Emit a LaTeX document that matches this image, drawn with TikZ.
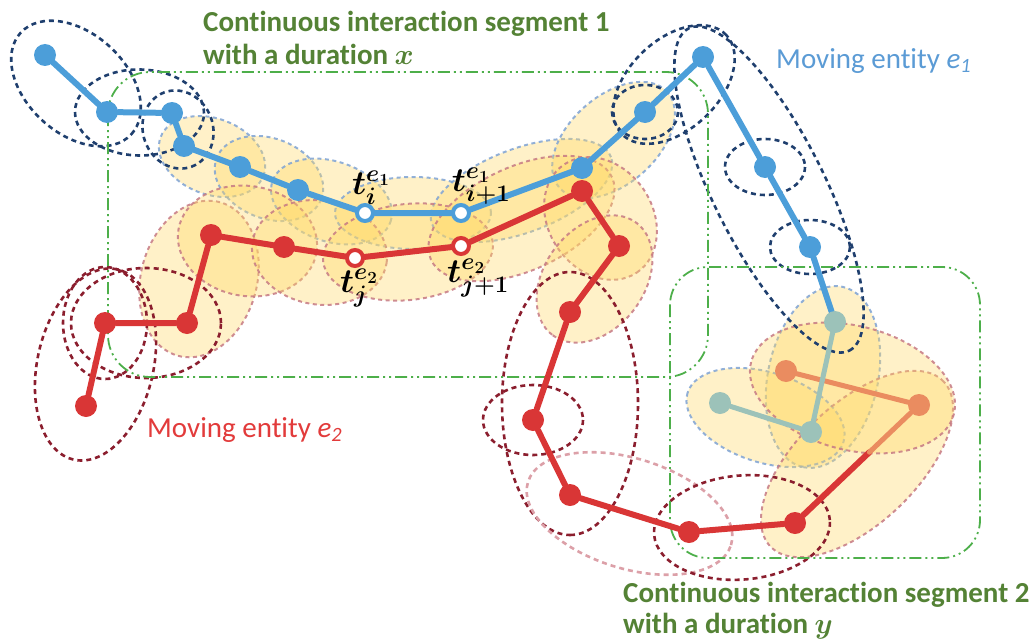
\RequirePackage{fix-cm}
\documentclass[tikz,border=0pt]{standalone}
\usepackage{fontspec}
\setmainfont{Carlito}[Ligatures=NoCommon]
\usetikzlibrary{positioning,calc}

\pgfdeclarelayer{prisms}
\pgfdeclarelayer{tracks}
\pgfsetlayers{prisms,tracks,main}

\definecolor{eblue}{HTML}{4C9ED9}
\definecolor{ered}{HTML}{D93636}
\definecolor{eteal}{HTML}{9CC2B9}
\definecolor{eorange}{HTML}{EA8C60}
\definecolor{navy}{HTML}{1F3F6E}
\definecolor{darkred}{HTML}{8B1E2E}
\definecolor{lightblue}{HTML}{7FA3D4}
\definecolor{pinkline}{HTML}{C67A84}
\definecolor{palepink}{HTML}{DCA0A8}
\definecolor{prismfill}{HTML}{FFD966}
\definecolor{segline}{HTML}{4DAF4A}
\definecolor{segtext}{HTML}{548235}
\definecolor{textblue}{HTML}{5B9BD5}
\definecolor{textred}{HTML}{E23B3B}

\tikzset{
  fixdot/.style={circle,fill=#1,inner sep=0pt,minimum size=22pt},
  openfix/.style={circle,draw=#1,fill=white,line width=4pt,inner sep=0pt,minimum size=16pt},
  track/.style={draw=#1,line width=6pt,line cap=round,line join=round},
  fadetrack/.style={draw=#1,line width=5pt,line cap=round,line join=round},
  inprism/.style={fill=prismfill,fill opacity=0.36,draw=#1,draw opacity=0.85,line width=2pt,dash pattern=on 4pt off 3.5pt},
  outprism/.style={draw=#1,line width=2.6pt,dash pattern=on 5pt off 4pt},
  segbox/.style={draw=segline,line width=1.8pt,rounded corners=#1,dash pattern=on 12pt off 4pt on 2pt off 4pt on 2pt off 4pt},
  seglabel/.style={text=segtext,font=\fontsize{29}{34}\selectfont\bfseries,inner sep=0pt,anchor=base west},
  entlabel/.style={text=#1,font=\fontsize{29}{34}\selectfont,inner sep=0pt,anchor=base west},
  timelabel/.style={font=\fontsize{34}{38}\selectfont\boldmath,inner sep=0pt}
}

% prism ellipse: style, two fixes as foci, extra half length, half width
\newcommand{\prism}[5]{%
  \path[#1] let \p1=(#2), \p2=(#3),
    \n1={atan2(\y2-\y1,\x2-\x1)}, \n2={veclen(\x2-\x1,\y2-\y1)/2+#4pt} in
    ($(#2)!0.5!(#3)$) circle[x radius=\n2, y radius=#5pt, rotate=\n1];}

\begin{document}
\begin{tikzpicture}[x=1pt,y=-1pt]
\useasboundingbox (0,0) rectangle (1033,642);

% moving entity e1
\node[fixdot=eblue] (b1) at (45,55) {};
\node[fixdot=eblue] (b2) at (107,112) {};
\node[fixdot=eblue] (b3) at (172,113) {};
\node[fixdot=eblue] (b4) at (184,146) {};
\node[fixdot=eblue] (b5) at (240,167) {};
\node[fixdot=eblue] (b6) at (298,190) {};
\node[openfix=eblue] (b7) at (365,213) {};
\node[openfix=eblue] (b8) at (461,213) {};
\node[fixdot=eblue] (b9) at (582,168) {};
\node[fixdot=eblue] (b10) at (645,112) {};
\node[fixdot=eblue] (b11) at (703,57) {};
\node[fixdot=eblue] (b12) at (765,167) {};
\node[fixdot=eblue] (b13) at (810,247) {};
\node[fixdot=eteal] (b14) at (835,322) {};
\node[fixdot=eteal] (b15) at (811,432) {};
\node[fixdot=eteal] (b16) at (720,403) {};

% moving entity e2
\node[fixdot=ered] (r1) at (86,406) {};
\node[fixdot=ered] (r2) at (105,323) {};
\node[fixdot=ered] (r3) at (187,323) {};
\node[fixdot=ered] (r4) at (211,235) {};
\node[fixdot=ered] (r5) at (284,247) {};
\node[openfix=ered] (r6) at (355,258) {};
\node[openfix=ered] (r7) at (461,246) {};
\node[fixdot=ered] (r8) at (582,191) {};
\node[fixdot=ered] (r9) at (619,246) {};
\node[fixdot=ered] (r10) at (570,312) {};
\node[fixdot=ered] (r11) at (533,420) {};
\node[fixdot=ered] (r12) at (570,495) {};
\node[fixdot=ered] (r13) at (689,532) {};
\node[fixdot=ered] (r14) at (795,523) {};
\node[fixdot=eorange] (r15) at (919,405) {};
\node[fixdot=eorange] (r16) at (786,371) {};
\coordinate (fade) at ($(r14)!0.6!(r15)$);

\begin{pgfonlayer}{prisms}
% inside the segments
\prism{inprism=lightblue}{b4}{b5}{25}{38}
\prism{inprism=lightblue}{b5}{b6}{25}{40}
\prism{inprism=lightblue}{b6}{b7}{27}{40}
\prism{inprism=lightblue}{b7}{b8}{30}{36}
\prism{inprism=lightblue}{b8}{b9}{31}{42}
\prism{inprism=lightblue}{b9}{b10}{30}{44}
\prism{inprism=lightblue}{b14}{b15}{36}{55}
\prism{inprism=lightblue}{b15}{b16}{34}{45}
\prism{inprism=pinkline}{r3}{r4}{34}{58}
\prism{inprism=pinkline}{r4}{r5}{33}{55}
\prism{inprism=pinkline}{r5}{r6}{32}{52}
\prism{inprism=pinkline}{r6}{r7}{32}{48}
\prism{inprism=pinkline}{r7}{r8}{33}{52}
\prism{inprism=pinkline}{r8}{r9}{32}{52}
\prism{inprism=pinkline}{r9}{r10}{29}{50}
\prism{inprism=pinkline}{r14}{r15}{34}{60}
\prism{inprism=pinkline}{r15}{r16}{36}{62}
% outside the segments
\prism{outprism=navy}{b1}{b2}{33}{50}
\prism{outprism=navy}{b2}{b3}{32}{43}
\prism{outprism=navy}{b3}{b4}{22}{35}
\prism{outprism=navy}{b10}{b11}{32}{45}
\prism{outprism=navy}{b11}{b14}{32}{56}
\draw[outprism=navy] (b10) ellipse (33 and 27);
\draw[outprism=navy] (b12) ellipse (40 and 28);
\draw[outprism=navy] (b13) ellipse (40 and 27);
\prism{outprism=darkred}{r1}{r2}{55}{58}
\prism{outprism=darkred}{r2}{r3}{34}{55}
\draw[outprism=darkred] (r2) ellipse (42 and 56);
\prism{outprism=darkred}{r10}{r12}{40}{68}
\draw[outprism=darkred] (r11) ellipse (50 and 35);
\prism{outprism=palepink}{r12}{r13}{44}{55}
\prism{outprism=darkred}{r13}{r14}{35}{52}
% interaction segments
\draw[segbox=42pt] (108,72) rectangle (708,377);
\draw[segbox=38pt] (670,267) rectangle (980,558);
\end{pgfonlayer}

\begin{pgfonlayer}{tracks}
\draw[track=ered] (r1) -- (r2) -- (r3) -- (r4) -- (r5) -- (r6) -- (r7) -- (r8) -- (r9)
  -- (r10) -- (r11) -- (r12) -- (r13) -- (r14) -- (fade);
\draw[fadetrack=eorange] (fade) -- (r15) -- (r16);
\draw[track=eblue] (b1) -- (b2) -- (b3) -- (b4) -- (b5) -- (b6) -- (b7) -- (b8) -- (b9)
  -- (b10) -- (b11) -- (b12) -- (b13) -- (b14);
\draw[fadetrack=eteal] (b14) -- (b15) -- (b16);
\end{pgfonlayer}

% time labels
\node[timelabel,above=-2pt of b7,xshift=6pt] (ti) {$t_i^{e_1}$};
\node[timelabel,above=-2pt of b8,xshift=20pt] (tii) {$t_{i+1}^{e_1}$};
\node[timelabel,below=1pt of r6,xshift=4pt] (tj) {$t_j^{e_2}$};
\node[timelabel,below=3pt of r7,xshift=17pt] (tjj) {$t_{j+1}^{e_2}$};

% texts
\node[seglabel] (seg1a) at (203,32) {Continuous interaction segment 1};
\node[seglabel] (seg1b) at (203,65) {with a duration {\boldmath$x$}};
\node[seglabel] (seg2a) at (623,602) {Continuous interaction segment 2};
\node[seglabel] (seg2b) at (623,633) {with a duration {\boldmath$y$}};
\node[entlabel=textblue] (e1name) at (776,68) {Moving entity \textit{e\textsubscript{1}}};
\node[entlabel=textred] (e2name) at (147,437) {Moving entity \textit{e\textsubscript{2}}};
\end{tikzpicture}
\end{document}
